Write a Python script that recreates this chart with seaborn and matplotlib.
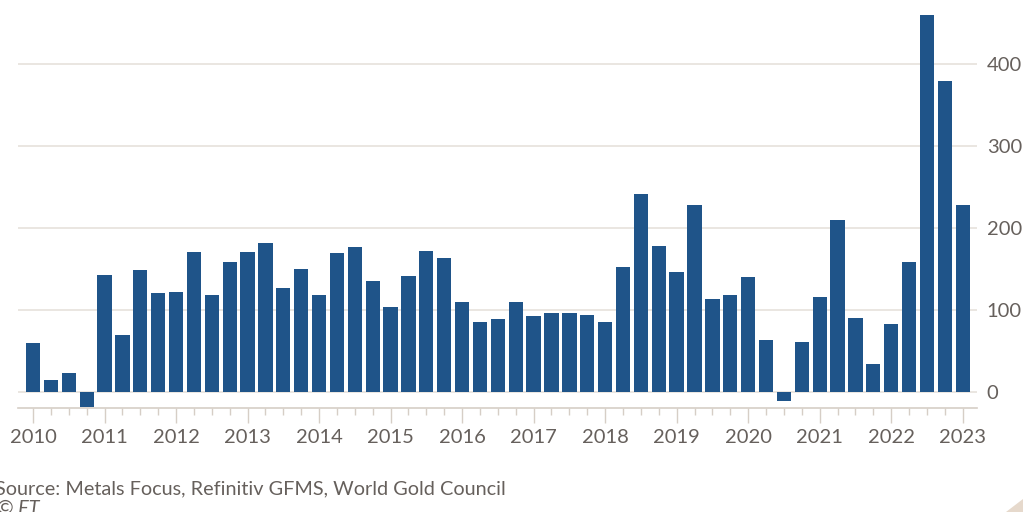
import numpy as np
import pandas as pd
import matplotlib
matplotlib.use("Agg")
import matplotlib.pyplot as plt
from matplotlib.patches import Polygon
import seaborn as sns

# Demanda trimestral (toneladas), 2010 T1 - 2023 T1
anios = list(range(2010, 2024))
valores = [
    59, 14, 23, -19,        # 2010
    142, 69, 149, 120,      # 2011
    122, 171, 118, 158,     # 2012
    171, 181, 127, 150,     # 2013
    118, 169, 177, 135,     # 2014
    103, 141, 172, 163,     # 2015
    110, 85, 89, 110,       # 2016
    92, 96, 96, 94,         # 2017
    85, 152, 241, 178,      # 2018
    146, 228, 113, 118,     # 2019
    140, 63, -11, 61,       # 2020
    115, 210, 90, 34,       # 2021
    83, 158, 460, 379,      # 2022
    228,                    # 2023
]
trimestres = [f"{a} T{q}" for a in anios for q in range(1, 5)][:len(valores)]
ticks_y = [0, 100, 200, 300, 400]
fuente = "Source: Metals Focus, Refinitiv GFMS, World Gold Council"

AZUL = "#1f5489"
GRIS_TXT = "#66605c"
GRIS_GRID = "#e6e1dc"
GRIS_EJE = "#d6cec6"

sns.set_theme(style="white")
plt.rcParams["font.family"] = ["Lato", "DejaVu Sans"]

df = pd.DataFrame({"trimestre": trimestres, "valor": valores})

fig = plt.figure(figsize=(10.23, 5.12), dpi=100)
ax = fig.add_axes([18 / 1023, 0.203, (977 - 18) / 1023, 0.797])

sns.barplot(data=df, x="trimestre", y="valor", order=trimestres,
            color=AZUL, saturation=1, width=0.8, linewidth=0, ax=ax, zorder=3)

ax.set_ylim(-20, 478)
ax.set_xlim(-0.84, len(valores) - 1 + 0.8)

# rejilla horizontal
ax.set_yticks(ticks_y)
ax.set_yticklabels([str(t) for t in ticks_y])
ax.yaxis.tick_right()
ax.grid(axis="y", color=GRIS_GRID, linewidth=1.2, zorder=0)
ax.tick_params(axis="y", length=0, pad=7, labelsize=14.5, labelcolor=GRIS_TXT)

# eje x: años como ticks mayores, trimestres como menores
pos = np.arange(len(valores))
ax.set_xticks(pos[::4])
ax.set_xticklabels([str(a) for a in anios])
ax.set_xticks(pos, minor=True)
ax.tick_params(axis="x", which="major", length=11, width=1, color=GRIS_EJE,
               labelsize=14.5, labelcolor=GRIS_TXT, pad=4, bottom=True)
ax.tick_params(axis="x", which="minor", length=5, width=1, color=GRIS_EJE, bottom=True)
ax.set_xlabel("")
ax.set_ylabel("")

for lado in ["top", "left", "right"]:
    ax.spines[lado].set_visible(False)
ax.spines["bottom"].set_color(GRIS_EJE)
ax.spines["bottom"].set_linewidth(1.2)

fig.text(-5 / 1023, 1 - 494 / 512, fuente, fontsize=14.3, color=GRIS_TXT, va="baseline")
fig.text(-3 / 1023, 1 - 514 / 512, "© FT", fontsize=14.3, color=GRIS_TXT,
         style="italic", va="baseline")

# esquina decorativa
fig.patches.append(Polygon([[1006 / 1023, 0], [1, 0], [1, 13 / 512]], closed=True,
                           transform=fig.transFigure, facecolor="#e6d9cc",
                           edgecolor="none"))

fig.savefig("out.png", dpi=100)
